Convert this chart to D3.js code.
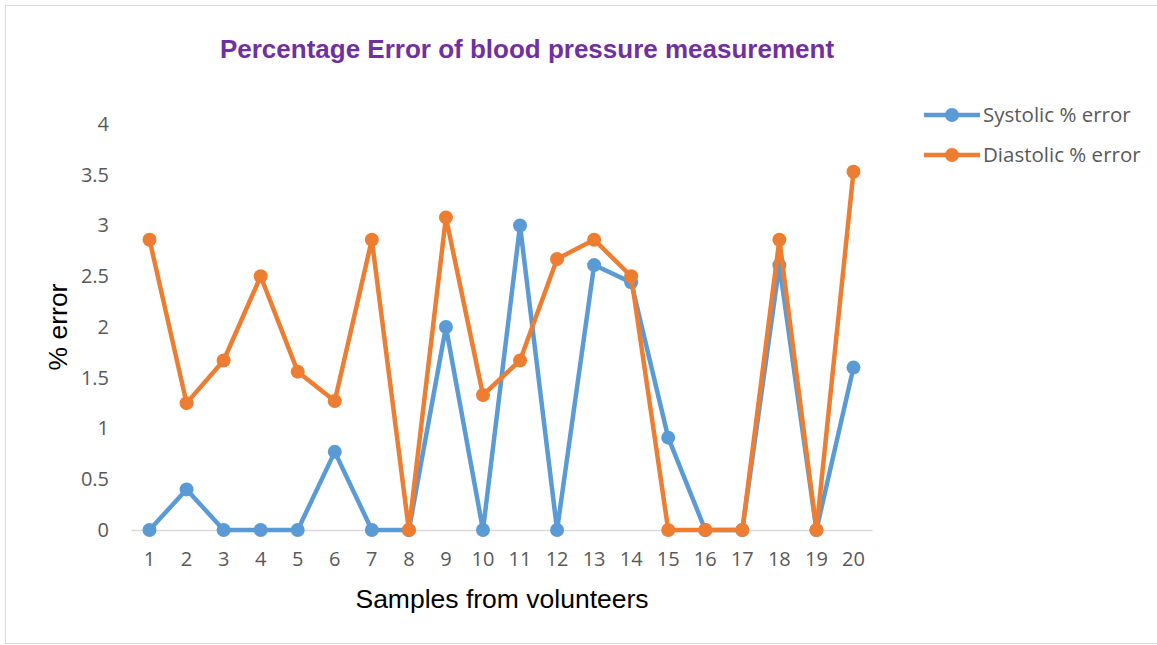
<!DOCTYPE html>
<html>
<head>
<meta charset="utf-8">
<script src="https://cdn.jsdelivr.net/npm/d3@7"></script>
<style>
  body { margin: 0; background: #fff; }
  svg { display: block; }
</style>
</head>
<body>
<svg id="chart" width="1157" height="645"></svg>
<script>
// sample numbers 1..20
var samples = ["1","2","3","4","5","6","7","8","9","10","11","12","13","14","15","16","17","18","19","20"];
var systolic = [0, 0.40, 0, 0, 0, 0.77, 0, 0, 2.0, 0, 3.0, 0, 2.61, 2.44, 0.91, 0, 0, 2.61, 0, 1.60];
var diastolic = [2.86, 1.25, 1.67, 2.5, 1.56, 1.27, 2.86, 0, 3.08, 1.33, 1.67, 2.67, 2.86, 2.5, 0, 0, 0, 2.86, 0, 3.53];
var yTicks = [0, 0.5, 1, 1.5, 2, 2.5, 3, 3.5, 4];
var seriesNames = ["Systolic % error", "Diastolic % error"];
var seriesColors = ["#5B9BD5", "#ED7D31"];

var svg = d3.select("#chart");
var plot = {left: 131, right: 872, top: 124, bottom: 530};

// outer chart border
svg.append("rect")
    .attr("x", 5.5).attr("y", 5.5)
    .attr("width", 1160).attr("height", 638)
    .attr("fill", "none")
    .attr("stroke", "#d9d9d9")
    .attr("stroke-width", 1);

var x = d3.scaleBand()
    .domain(samples)
    .range([plot.left, plot.right]);
var y = d3.scaleLinear()
    .domain([0, 4])
    .range([plot.bottom, plot.top]);

// title
svg.append("text")
    .attr("x", 527).attr("y", 58)
    .attr("text-anchor", "middle")
    .style("font-family", "Liberation Sans, Arial, sans-serif")
    .style("font-weight", "bold")
    .style("font-size", "26px")
    .style("fill", "#7030A0")
    .text("Percentage Error of blood pressure measurement");

// y axis labels (no line)
var yAxis = d3.axisLeft(y).tickValues(yTicks).tickSize(0).tickPadding(22).tickFormat(d3.format("~g"));
var yg = svg.append("g")
    .attr("transform", "translate(" + plot.left + ",0)")
    .call(yAxis);
yg.select(".domain").remove();
yg.selectAll("text")
    .style("font-family", "Open Sans, sans-serif")
    .style("font-size", "20px")
    .style("fill", "#595959");

// x axis
var xAxis = d3.axisBottom(x).tickSize(0).tickPadding(22);
var xg = svg.append("g")
    .attr("transform", "translate(0," + plot.bottom + ")")
    .call(xAxis);
xg.select(".domain").attr("stroke", "#d9d9d9").attr("stroke-width", 1.5);
xg.selectAll("text")
    .style("font-family", "Open Sans, sans-serif")
    .style("font-size", "20px")
    .style("fill", "#595959");

// axis titles
svg.append("text")
    .attr("transform", "translate(67,327) rotate(-90)")
    .attr("text-anchor", "middle")
    .style("font-family", "Liberation Sans, Arial, sans-serif")
    .style("font-size", "26.5px")
    .style("fill", "#000")
    .text("% error");

svg.append("text")
    .attr("x", 502).attr("y", 608)
    .attr("text-anchor", "middle")
    .style("font-family", "Liberation Sans, Arial, sans-serif")
    .style("font-size", "26.5px")
    .style("fill", "#000")
    .text("Samples from volunteers");

var line = d3.line()
    .x(function(d, i){ return x(samples[i]) + x.bandwidth() / 2; })
    .y(function(d){ return y(d); });

[systolic, diastolic].forEach(function(series, sIdx) {
    var g = svg.append("g");
    g.append("path")
        .attr("d", line(series))
        .attr("fill", "none")
        .attr("stroke", seriesColors[sIdx])
        .attr("stroke-width", 4.5)
        .attr("stroke-linejoin", "round");
    g.selectAll("circle")
        .data(series)
        .enter().append("circle")
        .attr("cx", function(d, i){ return x(samples[i]) + x.bandwidth() / 2; })
        .attr("cy", function(d){ return y(d); })
        .attr("r", 7)
        .attr("fill", seriesColors[sIdx]);
});

// legend
seriesNames.forEach(function(name, i) {
    var ly = 115 + i * 40;
    var lg = svg.append("g");
    lg.append("line")
        .attr("x1", 924).attr("x2", 980)
        .attr("y1", ly).attr("y2", ly)
        .attr("stroke", seriesColors[i])
        .attr("stroke-width", 4.5);
    lg.append("circle")
        .attr("cx", 952).attr("cy", ly).attr("r", 7)
        .attr("fill", seriesColors[i]);
    lg.append("text")
        .attr("x", 983).attr("y", ly)
        .attr("dy", "0.35em")
        .style("font-family", "Open Sans, sans-serif")
        .style("font-size", "20.5px")
        .style("fill", "#595959")
        .text(name);
});
</script>
</body>
</html>
